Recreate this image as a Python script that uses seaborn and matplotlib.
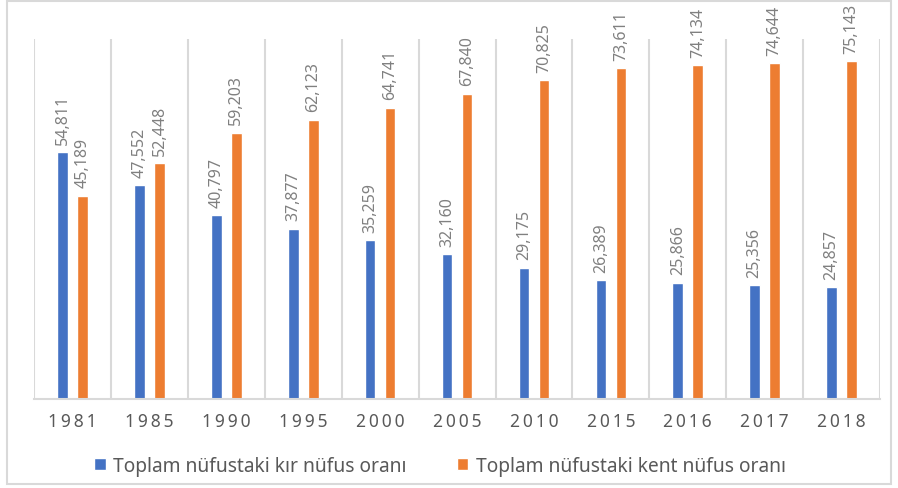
import matplotlib
matplotlib.use("Agg")
import matplotlib.pyplot as plt
import pandas as pd
import seaborn as sns
from matplotlib.patches import Rectangle

years = ["1981", "1985", "1990", "1995", "2000", "2005", "2010", "2015", "2016", "2017", "2018"]
rural = [54.811, 47.552, 40.797, 37.877, 35.259, 32.160, 29.175, 26.389, 25.866, 25.356, 24.857]
urban = [45.189, 52.448, 59.203, 62.123, 64.741, 67.840, 70.825, 73.611, 74.134, 74.644, 75.143]
series_names = ["Toplam nüfustaki kır nüfus oranı", "Toplam nüfustaki kent nüfus oranı"]
colors = ["#4472C4", "#ED7D31"]

sns.set_style("white")
plt.rcParams["font.family"] = ["Noto Sans", "DejaVu Sans"]

df = pd.DataFrame({
    "year": years * 2,
    "value": rural + urban,
    "series": [series_names[0]] * len(years) + [series_names[1]] * len(years),
})

fig = plt.figure(figsize=(8.98, 4.89), dpi=100)
ax = fig.add_axes([0.038, 0.182, 0.942, 0.736])

sns.barplot(data=df, x="year", y="value", hue="series", palette=colors,
            width=0.52, gap=0.47, ax=ax, saturation=1)

# data labels with comma decimal separator
for cont, vals in zip(ax.containers, [rural, urban]):
    labels = [f"{v:.3f}".replace(".", ",") for v in vals]
    ax.bar_label(cont, labels=labels, rotation=90, padding=6,
                 fontsize=11.5, color="#808080")

ax.set_ylim(0, 80)
ax.set_xlim(-0.5, len(years) - 0.5)
for b in range(len(years) + 1):
    ax.axvline(b - 0.5, color="#d9d9d9", lw=1.5, zorder=0)

for s in ["top", "right", "left"]:
    ax.spines[s].set_visible(False)
ax.spines["bottom"].set_color("#d9d9d9")
ax.spines["bottom"].set_linewidth(1.5)
ax.set_yticks([])
ax.set_xlabel("")
ax.set_ylabel("")
ax.set_xticks(range(len(years)))
ax.set_xticklabels(["\u2009".join(y) for y in years], fontsize=12.5, color="#595959")
ax.tick_params(axis="x", length=0, pad=9)

handles, labels = ax.get_legend_handles_labels()
ax.get_legend().remove()
fig.legend(handles, labels, loc="center", bbox_to_anchor=(0.49, 0.045), ncol=2,
           frameon=False, fontsize=13.8, handlelength=0.6, handleheight=0.6,
           handletextpad=0.4, columnspacing=2.6, labelcolor="#595959")

fig.patches.append(Rectangle((0.008, 0.008), 0.984, 0.988, transform=fig.transFigure,
                             fill=False, edgecolor="#d9d9d9", lw=1.5))

fig.savefig("out.png", dpi=100)
